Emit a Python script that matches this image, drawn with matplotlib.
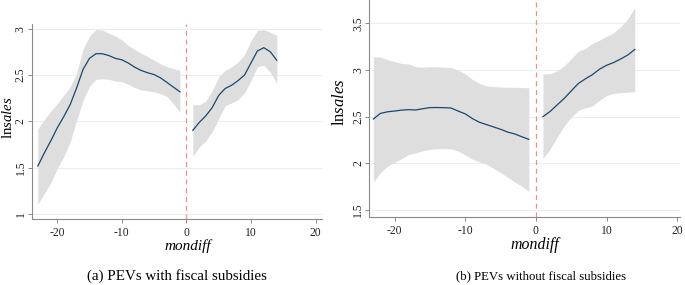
import numpy as np
import matplotlib
matplotlib.use("Agg")
import matplotlib.pyplot as plt

plt.rcParams['font.family'] = ['Liberation Serif', 'DejaVu Serif']
plt.rcParams['mathtext.fontset'] = 'custom'
plt.rcParams['mathtext.rm'] = 'Liberation Serif'
plt.rcParams['mathtext.it'] = 'Liberation Serif:italic'
plt.rcParams['axes.unicode_minus'] = False

# ---------------- data ----------------
# Panel (a): PEVs with fiscal subsidies
a_x_pre = [-23, -22, -21, -20, -19, -18, -17, -16, -15, -14, -13, -12,
           -11, -10, -9, -8, -7, -6, -5, -4, -3, -2, -1]
a_fit_pre = [1.52, 1.66, 1.79, 1.93, 2.05, 2.18, 2.36, 2.56, 2.68, 2.73, 2.73, 2.71,
             2.68, 2.665, 2.63, 2.585, 2.55, 2.525, 2.505, 2.47, 2.42, 2.37, 2.32]
a_hi_pre = [1.92, 2.02, 2.11, 2.19, 2.28, 2.37, 2.52, 2.78, 2.92, 2.99, 2.985, 2.95,
            2.92, 2.88, 2.82, 2.775, 2.735, 2.70, 2.66, 2.62, 2.59, 2.57, 2.55]
a_lo_pre = [1.11, 1.225, 1.34, 1.49, 1.62, 1.78, 2.01, 2.23, 2.38, 2.455, 2.46, 2.455,
            2.435, 2.43, 2.40, 2.365, 2.34, 2.33, 2.32, 2.30, 2.27, 2.19, 2.10]
a_x_post = [1, 2, 3, 4, 5, 6, 7, 8, 9, 10, 11, 12, 13, 14]
a_fit_post = [1.905, 1.99, 2.06, 2.15, 2.28, 2.355, 2.39, 2.44, 2.50, 2.63, 2.76, 2.795, 2.75, 2.66]
a_hi_post = [2.18, 2.18, 2.22, 2.33, 2.48, 2.55, 2.59, 2.64, 2.72, 2.87, 2.98, 2.99, 2.96, 2.925]
a_lo_post = [1.625, 1.725, 1.79, 1.89, 2.03, 2.17, 2.20, 2.235, 2.31, 2.44, 2.59, 2.605, 2.53, 2.41]

# Panel (b): PEVs without fiscal subsidies
b_x_pre = [-23, -22, -21, -20, -19, -18, -17, -16, -15, -14, -13, -12,
           -11, -10, -9, -8, -7, -6, -5, -4, -3, -2, -1]
b_fit_pre = [2.475, 2.535, 2.552, 2.56, 2.57, 2.575, 2.572, 2.585, 2.597, 2.598, 2.596, 2.592,
             2.56, 2.53, 2.48, 2.44, 2.415, 2.39, 2.365, 2.335, 2.315, 2.285, 2.257]
b_hi_pre = [3.14, 3.138, 3.11, 3.09, 3.07, 3.065, 3.035, 3.03, 3.035, 3.033, 3.03, 3.025,
            3.0, 2.957, 2.90, 2.855, 2.83, 2.822, 2.818, 2.815, 2.814, 2.812, 2.81]
b_lo_pre = [1.80, 1.90, 1.97, 2.01, 2.05, 2.095, 2.11, 2.135, 2.15, 2.157, 2.157, 2.155,
            2.13, 2.09, 2.045, 2.015, 1.99, 1.946, 1.90, 1.85, 1.80, 1.755, 1.70]
b_x_post = [1, 2, 3, 4, 5, 6, 7, 8, 9, 10, 11, 12, 13, 14]
b_fit_post = [2.50, 2.555, 2.625, 2.695, 2.775, 2.855, 2.905, 2.95, 3.008, 3.05, 3.08, 3.118, 3.16, 3.22]
b_hi_post = [2.957, 2.96, 2.99, 3.045, 3.12, 3.20, 3.23, 3.285, 3.32, 3.36, 3.40, 3.465, 3.545, 3.67]
b_lo_post = [2.05, 2.15, 2.28, 2.40, 2.495, 2.565, 2.595, 2.615, 2.675, 2.725, 2.748, 2.758, 2.763, 2.768]

x_ticks = [-20, -10, 0, 10, 20]
x_tick_labels = ['-20', '-10', '0', '10', '20']
a_y_ticks = [1, 1.5, 2, 2.5, 3]
a_y_tick_labels = ['1', '1.5', '2', '2.5', '3']
b_y_ticks = [1.5, 2, 2.5, 3, 3.5]
b_y_tick_labels = ['1.5', '2', '2.5', '3', '3.5']
captions = ['(a) PEVs with fiscal subsidies', '(b) PEVs without fiscal subsidies']

# ---------------- style ----------------
W, H = 685, 285
fig = plt.figure(figsize=(W / 100, H / 100), dpi=100)

LINE = '#1a476f'
BAND = '#dedede'
GRID = '#e8f0f2'
SPINE = '#8a8a8a'
VLINE = '#f08c8c'


def px_rect(x0, y0, x1, y1):
    return [x0 / W, 1 - y1 / H, (x1 - x0) / W, (y1 - y0) / H]


def draw(ax, segs, xlim, ylim, yt, ytl, tick_fs):
    ax.set_xlim(*xlim)
    ax.set_ylim(*ylim)
    for t in yt:
        ax.axhline(t, color=GRID, lw=0.8, zorder=0)
    for xs, fit, hi, lo in segs:
        ax.fill_between(xs, lo, hi, color=BAND, lw=0, zorder=1)
        ax.plot(xs, fit, color=LINE, lw=0.9, zorder=3)
    ax.axvline(0, color=VLINE, lw=0.9, ls=(0, (4, 3)), zorder=4)
    for s in ['top', 'right']:
        ax.spines[s].set_visible(False)
    for s in ['left', 'bottom']:
        ax.spines[s].set_color(SPINE)
        ax.spines[s].set_linewidth(0.8)
    ax.set_xticks(x_ticks)
    ax.set_xticklabels(x_tick_labels)
    ax.set_yticks(yt)
    ax.set_yticklabels(ytl, rotation=90, va='center')
    ax.tick_params(axis='both', colors=SPINE, length=3, width=0.7,
                   labelcolor='#222222', labelsize=tick_fs)
    ax.tick_params(axis='x', pad=3)
    ax.tick_params(axis='y', pad=0.8)
    ax.set_facecolor('white')


ax1 = fig.add_axes(px_rect(32, 24, 322, 219))
draw(ax1, [(a_x_pre, a_fit_pre, a_hi_pre, a_lo_pre),
           (a_x_post, a_fit_post, a_hi_post, a_lo_post)],
     (-23.9, 21.0), (0.95, 3.05), a_y_ticks, a_y_tick_labels, 8.4)

ax2 = fig.add_axes(px_rect(369.3, 0, 680, 216.7))
draw(ax2, [(b_x_pre, b_fit_pre, b_hi_pre, b_lo_pre),
           (b_x_post, b_fit_post, b_hi_post, b_lo_post)],
     (-23.58, 20.4), (1.428, 3.75), b_y_ticks, b_y_tick_labels, 8.4)

ylabel = r'$\mathrm{ln}\mathit{sales}$'
fig.text(8.5 / W, 1 - 118 / H, ylabel, rotation=90, ha='center', va='center', fontsize=10.6)
fig.text(340.5 / W, 1 - 101.7 / H, ylabel, rotation=90, ha='center', va='center', fontsize=12)

fig.text(188 / W, 1 - 246 / H, 'mondiff', style='italic', ha='center', va='center', fontsize=11)
fig.text(535 / W, 1 - 245 / H, 'mondiff', style='italic', ha='center', va='center', fontsize=11.4)

fig.text(176.5 / W, 1 - 276 / H, captions[0], ha='center', va='center', fontsize=10.8)
fig.text(541.5 / W, 1 - 276 / H, captions[1], ha='center', va='center', fontsize=9.2)

fig.savefig('out.png', dpi=100, facecolor='white')
